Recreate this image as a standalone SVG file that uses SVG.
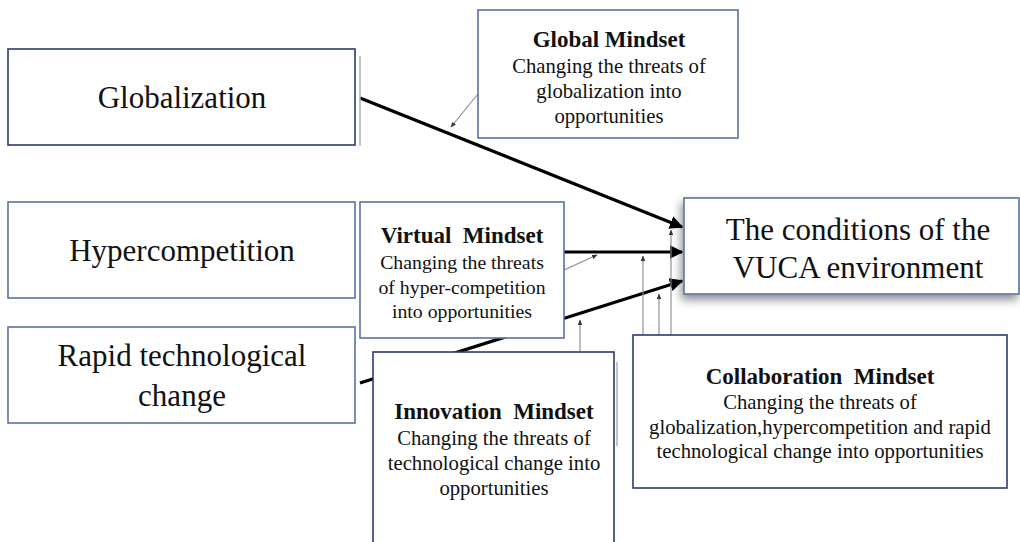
<svg xmlns="http://www.w3.org/2000/svg" width="1020" height="542" viewBox="0 0 1020 542">
<style>
.box{fill:#fff;stroke:#2c3a72;stroke-width:1.6}
.lbox{fill:#fff;stroke:#5a72a8;stroke-width:1.6}
.big{font-family:"Liberation Serif",serif;font-size:31px;fill:#111;text-anchor:middle}
.t{font-family:"Liberation Serif",serif;font-size:20.7px;fill:#111;text-anchor:middle}
.v{font-size:19.8px}
.b{font-weight:bold;font-size:23px}
.thick{stroke:#000;stroke-width:3.2;fill:none;marker-end:url(#ah)}
.thin{stroke:#8a8a8a;stroke-width:1.1;fill:none;marker-end:url(#as)}
.edge{stroke:#b0b0b0;stroke-width:1.5}
</style>
<defs>
<marker id="ah" viewBox="0 0 10 10" refX="9" refY="5" markerWidth="4.2" markerHeight="4.2" orient="auto" markerUnits="strokeWidth">
<path d="M0,0 L10,5 L0,10 z" fill="#000"/>
</marker>
<marker id="as" viewBox="0 0 10 10" refX="9" refY="5" markerWidth="5" markerHeight="5" orient="auto" markerUnits="strokeWidth">
<path d="M0,1 L10,5 L0,9 z" fill="#333"/>
</marker>
<filter id="sh" x="-10%" y="-20%" width="130%" height="150%">
<feDropShadow dx="-2" dy="5" stdDeviation="5" flood-color="#000" flood-opacity="0.45"/>
</filter>
</defs>

<g id="connectors">
<line class="thick" x1="360" y1="98" x2="682" y2="227"/>
<line class="thick" x1="564" y1="252" x2="682" y2="252"/>
<line class="thick" x1="360" y1="383" x2="682" y2="281"/>
<line class="thin" x1="478" y1="94" x2="451" y2="127"/>
<line class="thin" x1="564" y1="270" x2="597" y2="255"/>
<line class="thin" x1="580" y1="352" x2="580" y2="320"/>
<line class="thin" x1="643" y1="335" x2="643" y2="256"/>
<line class="thin" x1="659" y1="335" x2="659" y2="294"/>
<line class="thin" x1="671" y1="335" x2="671" y2="230"/>
</g>

<g id="globalization">
<line class="edge" x1="360" y1="56" x2="360" y2="146"/>
<rect class="box" x="8" y="49" width="347" height="96"/>
<text class="big" x="182" y="108">Globalization</text>
</g>

<g id="hypercompetition">
<rect class="lbox" x="8" y="202" width="347" height="96"/>
<text class="big" x="182" y="261">Hypercompetition</text>
</g>

<g id="rapid">
<rect class="lbox" x="8" y="327" width="347" height="96"/>
<text class="big" x="182" y="366">Rapid technological</text>
<text class="big" x="182" y="406">change</text>
</g>

<g id="global-mindset">
<rect class="lbox" x="478" y="10" width="260" height="128"/>
<text class="t b" x="609" y="47">Global Mindset</text>
<text class="t" x="609" y="73">Changing the threats of</text>
<text class="t" x="609" y="98">globalization into</text>
<text class="t" x="609" y="123">opportunities</text>
</g>

<g id="virtual-mindset">
<rect class="lbox" x="360" y="202" width="204" height="136"/>
<text class="t b" x="462" y="243">Virtual&#160; Mindset</text>
<text class="t v" x="462" y="269">Changing the threats</text>
<text class="t v" x="462" y="294">of hyper-competition</text>
<text class="t v" x="462" y="318">into opportunities</text>
</g>

<g id="innovation-mindset">
<line class="edge" x1="617" y1="362" x2="617" y2="446"/>
<rect class="box" x="373" y="352" width="241" height="200"/>
<text class="t b" x="494" y="419">Innovation&#160; Mindset</text>
<text class="t" x="494" y="445">Changing the threats of</text>
<text class="t" x="494" y="470">technological change into</text>
<text class="t" x="494" y="495">opportunities</text>
</g>

<g id="collaboration-mindset">
<rect class="box" x="633" y="335" width="374" height="153"/>
<text class="t b" x="820" y="384">Collaboration&#160; Mindset</text>
<text class="t" x="820" y="409">Changing the threats of</text>
<text class="t" x="820" y="434">globalization,hypercompetition and rapid</text>
<text class="t" x="820" y="458">technological change into opportunities</text>
</g>

<g id="vuca">
<rect class="lbox" x="684" y="198" width="335" height="96" filter="url(#sh)"/>
<text class="big" x="858" y="240">The conditions of the</text>
<text class="big" x="858" y="278">VUCA environment</text>
</g>
</svg>
